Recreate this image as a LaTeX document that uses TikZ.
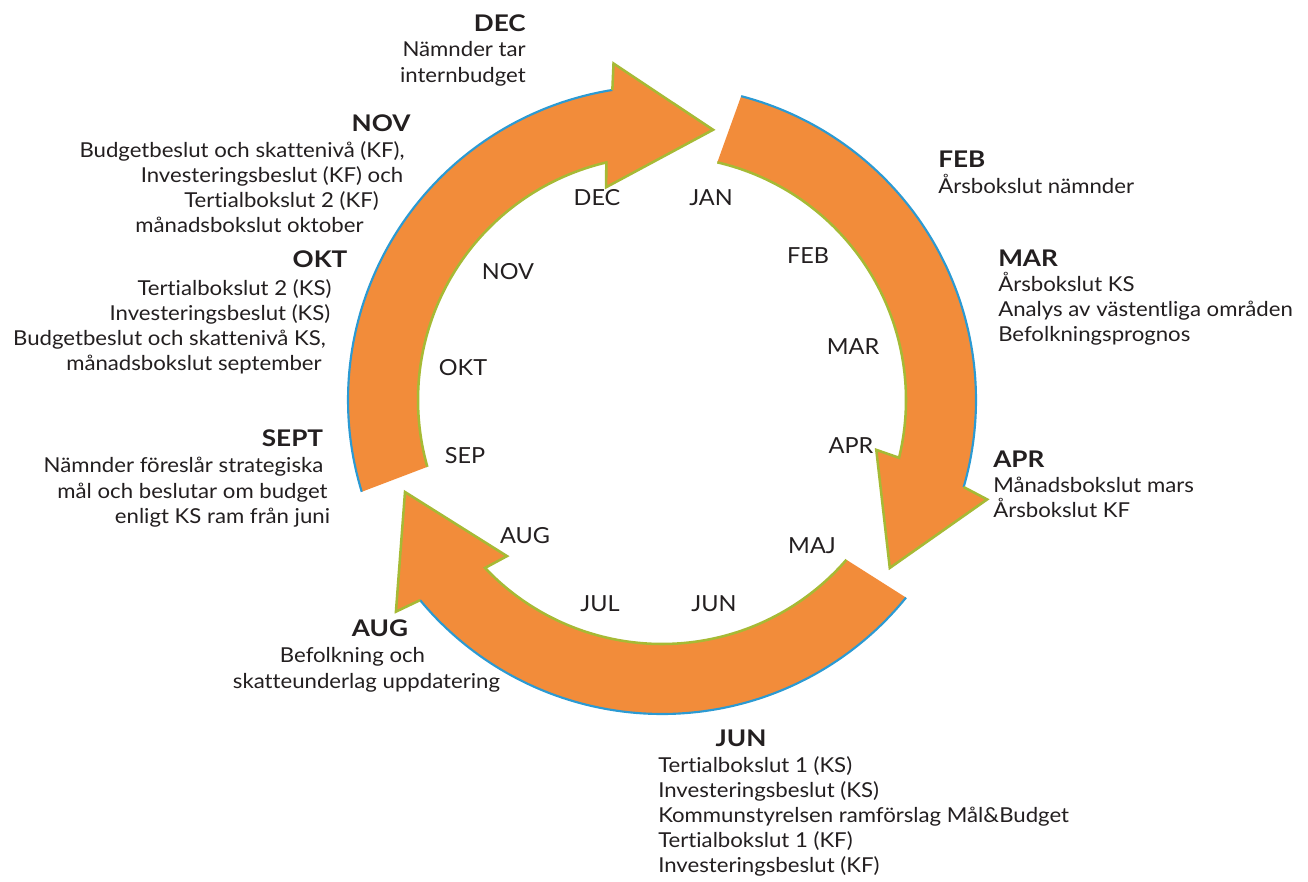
\documentclass[tikz,border=0pt]{standalone}
\usepackage{fontspec}
\setmainfont[Ligatures=NoCommon]{Lato}
\newfontfamily\bodyfont[FakeStretch=1.08, Ligatures=NoCommon]{Lato}
\newfontfamily\headfont[FakeStretch=1.14, Ligatures=NoCommon]{Lato}
\newfontfamily\monfont[FakeStretch=1.06, Ligatures=NoCommon]{Lato}
\definecolor{arrfill}{HTML}{F28C3A}
\definecolor{edgeblue}{HTML}{2B9AD3}
\definecolor{edgegreen}{HTML}{A6BA35}
\definecolor{txt}{HTML}{231F20}
\tikzset{
  lbl/.style={font=\bodyfont\fontsize{15.4pt}{18pt}\selectfont, text=txt, inner sep=0pt, anchor=base},
  hd/.style={font=\headfont\fontsize{17.2pt}{20pt}\selectfont\bfseries, text=txt, inner sep=0pt, anchor=base},
  mon/.style={font=\monfont\fontsize{16.6pt}{19pt}\selectfont, text=txt, inner sep=0pt, anchor=base},
  arrbody/.style={fill=arrfill},
  outeredge/.style={draw=edgeblue, line width=1.6pt},
  inneredge/.style={draw=edgegreen, line width=1.9pt, line join=miter},
}
% #1 tail outer angle, #2 tail inner angle, #3 outer notch, #4 outer barb,
% #5 tip angle, #6 inner barb, #7 inner notch, #8 tip radius
\newcommand\ringarrow[8]{%
  \fill[arrbody] plot[domain=#1:#3, samples=90] (\x:314) -- (#4:340) -- (#5:#8)
     -- (#6:220) -- (#7:244) -- plot[domain=#7:#2, samples=90] (\x:244) -- cycle;
  \draw[outeredge] plot[domain=#1:#3, samples=90] (\x:314);
  \draw[inneredge] (#3:314) -- (#4:340) -- (#5:#8) -- (#6:220) -- (#7:244)
     -- plot[domain=#7:#2, samples=90] (\x:244);
}
\begin{document}
\begin{tikzpicture}[x=0.75pt, y=-0.75pt]
\useasboundingbox (0,0) rectangle (1308,881);
\fill[white] (0,0) rectangle (1308,881);

\begin{scope}[shift={(496.5pt,-300pt)}, x=0.75pt, y=0.75pt]
  \ringarrow{75.4}{76.9}{-16.1}{-17}{-36.4}{-13.1}{-13.7}{283}
  \ringarrow{-39}{-40.9}{-140.4}{-141.5}{-160.3}{-134.8}{-136.5}{273}
  \ringarrow{197}{195.9}{99.1}{98.2}{79.3}{104.7}{103.2}{275}
\end{scope}

% inner month labels
\node[mon] (mjan) at (711,205) {JAN};
\node[mon] (mdec) at (597,205) {DEC};
\node[mon] (mfeb) at (808,263) {FEB};
\node[mon] (mmar) at (853,354) {MAR};
\node[mon] (mapr) at (851,453) {APR};
\node[mon] (mmaj) at (812,553) {MAJ};
\node[mon] (mjun) at (714,611) {JUN};
\node[mon] (mjul) at (600,611) {JUL};
\node[mon] (maug) at (525,543) {AUG};
\node[mon] (msep) at (465,463) {SEP};
\node[mon] (mokt) at (463,375) {OKT};
\node[mon] (mnov) at (508,279) {NOV};

% DEC block
\node[hd, anchor=base east] (dech) at (526,32) {DEC};
\node[lbl, anchor=base east] (dec1) at (526,57) {Nämnder tar};
\node[lbl, anchor=base east] (dec2) at (526,82) {internbudget};

% NOV block
\node[hd] (novh) at (381,131) {NOV};
\node[lbl] (nov1) at (242,157) {Budgetbeslut och skattenivå (KF),};
\node[lbl] (nov2) at (272,182) {Investeringsbeslut (KF) och};
\node[lbl] (nov3) at (281.5,207) {Tertialbokslut 2 (KF)};
\node[lbl] (nov4) at (249.5,232) {månadsbokslut oktober};

% OKT block
\node[hd] (okth) at (320,267) {OKT};
\node[lbl] (okt1) at (234.5,295) {Tertialbokslut 2 (KS)};
\node[lbl] (okt2) at (220,320) {Investeringsbeslut (KS)};
\node[lbl] (okt3) at (169.5,345) {Budgetbeslut och skattenivå KS,};
\node[lbl] (okt4) at (194,370) {månadsbokslut september};

% SEPT block
\node[hd] (seph) at (292.5,446) {SEPT};
\node[lbl] (sep1) at (183.5,472) {Nämnder föreslår strategiska};
\node[lbl] (sep2) at (192.5,498) {mål och beslutar om budget};
\node[lbl] (sep3) at (222.5,523) {enligt KS ram från juni};

% AUG block
\node[hd] (augh) at (380,636) {AUG};
\node[lbl] (aug1) at (352.5,662) {Befolkning och};
\node[lbl] (aug2) at (366.5,688) {skatteunderlag uppdatering};

% JUN block
\node[hd] (junh) at (741,746) {JUN};
\node[lbl, anchor=base west] (jun1) at (658,772) {Tertialbokslut 1 (KS)};
\node[lbl, anchor=base west] (jun2) at (658,797) {Investeringsbeslut (KS)};
\node[lbl, anchor=base west] (jun3) at (658,822) {Kommunstyrelsen ramförslag Mål\&Budget};
\node[lbl, anchor=base west] (jun4) at (658,847) {Tertialbokslut 1 (KF)};
\node[lbl, anchor=base west] (jun5) at (658,872) {Investeringsbeslut (KF)};

% FEB block
\node[hd, anchor=base west] (febh) at (938,167) {FEB};
\node[lbl, anchor=base west] (feb1) at (938,193) {Årsbokslut nämnder};

% MAR block
\node[hd, anchor=base west] (marh) at (998,266) {MAR};
\node[lbl, anchor=base west] (mar1) at (998,291) {Årsbokslut KS};
\node[lbl, anchor=base west] (mar2) at (998,316) {Analys av västentliga områden};
\node[lbl, anchor=base west] (mar3) at (998,341) {Befolkningsprognos};

% APR block
\node[hd, anchor=base west] (aprh) at (993,467) {APR};
\node[lbl, anchor=base west] (apr1) at (993,492) {Månadsbokslut mars};
\node[lbl, anchor=base west] (apr2) at (993,517) {Årsbokslut KF};
\end{tikzpicture}
\end{document}
